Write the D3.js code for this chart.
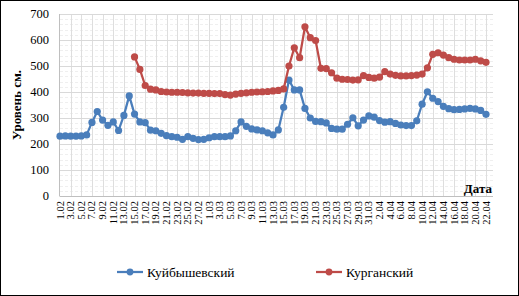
<!doctype html>
<html lang="ru">
<head>
    <meta charset="utf-8">
    <script src="https://d3js.org/d3.v7.min.js"></script>
    <style>
        html, body {
            margin: 0;
            padding: 0;
            background: #fff;
        }
    </style>
</head>
<body>
<svg id="svg" width="519" height="296"></svg>
<script>
    // dates 1.02 .. 22.04
    var dates = [
        "1.02", "2.02", "3.02", "4.02", "5.02", "6.02", "7.02", "8.02", "9.02", "10.02",
        "11.02", "12.02", "13.02", "14.02", "15.02", "16.02", "17.02", "18.02", "19.02", "20.02",
        "21.02", "22.02", "23.02", "24.02", "25.02", "26.02", "27.02", "28.02",
        "1.03", "2.03", "3.03", "4.03", "5.03", "6.03", "7.03", "8.03", "9.03", "10.03",
        "11.03", "12.03", "13.03", "14.03", "15.03", "16.03", "17.03", "18.03", "19.03", "20.03",
        "21.03", "22.03", "23.03", "24.03", "25.03", "26.03", "27.03", "28.03", "29.03", "30.03", "31.03",
        "1.04", "2.04", "3.04", "4.04", "5.04", "6.04", "7.04", "8.04", "9.04", "10.04",
        "11.04", "12.04", "13.04", "14.04", "15.04", "16.04", "17.04", "18.04", "19.04", "20.04",
        "21.04", "22.04"
    ];

    var kuibyshevsky = [
        230, 231, 230, 230, 231, 235, 283, 325, 292, 272,
        285, 252, 310, 385, 315, 285, 282, 253, 251, 241,
        232, 228, 226, 218, 228, 222, 217, 218, 224, 228,
        228, 228, 231, 251, 285, 268, 258, 254, 251, 243,
        235, 254, 341, 446, 408, 408, 337, 300, 287, 286,
        281, 260, 257, 257, 276, 301, 270, 292, 308, 303,
        290, 284, 286, 279, 273, 271, 271, 289, 353, 401,
        376, 363, 345, 336, 332, 333, 335, 337, 335, 329,
        314
    ];

    var kurgansky = [
        null, null, null, null, null, null, null, null, null, null,
        null, null, null, null, 535, 487, 425, 411, 408, 402,
        400, 399, 399, 398, 397, 396, 396, 395, 395, 394,
        394, 390, 388, 392, 395, 397, 399, 400, 401, 402,
        404, 406, 412, 500, 570, 532, 651, 609, 598, 491,
        490, 474, 453, 449, 448, 446, 447, 463, 456, 453,
        457, 478, 469, 464, 462, 462, 463, 465, 469, 493,
        545, 551, 542, 532, 526, 523, 523, 523, 526, 520,
        514
    ];

    var yTicks = [0, 100, 200, 300, 400, 500, 600, 700];
    var seriesNames = ["Куйбышевский", "Курганский"];
    var colors = ["#4a7ebb", "#be4b48"];

    (function () {
        var svg = d3.select("#svg");
        var font = "Liberation Serif";

        var left = 60, right = 486, plotTop = 14, plotBottom = 196, plotRight = 493;

        var x = d3.scalePoint().domain(d3.range(dates.length)).range([left, right]).padding(0);
        var y = d3.scaleLinear().domain([0, 700]).range([plotBottom, plotTop]);

        svg.append("rect")
            .attr("x", 0.5).attr("y", 0.5)
            .attr("width", 518).attr("height", 295)
            .attr("fill", "#fff")
            .attr("stroke", "#000");

        // minor grid
        svg.append("g").selectAll("line")
            .data(d3.range(0, 701, 20).filter(function (v) { return v % 100 != 0; }))
            .enter().append("line")
            .attr("x1", left).attr("x2", plotRight)
            .attr("y1", function (d) { return Math.round(y(d)) + 0.5; })
            .attr("y2", function (d) { return Math.round(y(d)) + 0.5; })
            .attr("stroke", "#efefef")
            .attr("stroke-dasharray", "3,2");

        // vertical grid, one per labelled date
        svg.append("g").selectAll("line")
            .data(d3.range(2, dates.length, 2))
            .enter().append("line")
            .attr("x1", function (d) { return Math.round(x(d)) + 0.5; })
            .attr("x2", function (d) { return Math.round(x(d)) + 0.5; })
            .attr("y1", plotTop).attr("y2", plotBottom)
            .attr("stroke", "#dedede");

        // major grid
        svg.append("g").selectAll("line")
            .data(yTicks.slice(1))
            .enter().append("line")
            .attr("x1", left).attr("x2", plotRight)
            .attr("y1", function (d) { return Math.round(y(d)) + 0.5; })
            .attr("y2", function (d) { return Math.round(y(d)) + 0.5; })
            .attr("stroke", "#d9d9d9");

        // axis lines
        svg.append("line")
            .attr("x1", left - 0.5).attr("x2", left - 0.5)
            .attr("y1", plotTop).attr("y2", plotBottom)
            .attr("stroke", "#bfbfbf");
        svg.append("line")
            .attr("x1", left - 0.5).attr("x2", plotRight)
            .attr("y1", plotBottom + 0.5).attr("y2", plotBottom + 0.5)
            .attr("stroke", "#bfbfbf");

        svg.append("g").selectAll("text")
            .data(yTicks)
            .enter().append("text")
            .attr("x", 49)
            .attr("y", function (d) { return y(d) + 4; })
            .attr("text-anchor", "end")
            .style("font-family", font)
            .style("font-size", "12.5px")
            .text(function (d) { return d; });

        svg.append("g").selectAll("text")
            .data(d3.range(0, dates.length, 2))
            .enter().append("text")
            .attr("transform", function (d) { return "translate(" + (x(d) + 3.5) + ",201) rotate(-90)"; })
            .attr("text-anchor", "end")
            .style("font-family", font)
            .style("font-size", "10.5px")
            .text(function (d) { return dates[d]; });

        svg.append("text")
            .attr("transform", "translate(21,105) rotate(-90)")
            .attr("text-anchor", "middle")
            .style("font-family", font)
            .style("font-size", "13px")
            .style("font-weight", "bold")
            .text("Уровень см.");

        svg.append("text")
            .attr("x", plotRight - 1)
            .attr("y", 193)
            .attr("text-anchor", "end")
            .style("font-family", font)
            .style("font-size", "13px")
            .style("font-weight", "bold")
            .text("Дата");

        var line = d3.line()
            .defined(function (d) { return d != null; })
            .x(function (d, i) { return x(i); })
            .y(function (d) { return y(d); });

        [kuibyshevsky, kurgansky].forEach(function (values, s) {
            svg.append("path")
                .datum(values)
                .attr("d", line)
                .attr("fill", "none")
                .attr("stroke", colors[s])
                .attr("stroke-width", 2.25)
                .attr("stroke-linejoin", "round");
            svg.append("g").selectAll("circle")
                .data(values.map(function (v, i) { return {i: i, v: v}; })
                    .filter(function (d) { return d.v != null; }))
                .enter().append("circle")
                .attr("cx", function (d) { return x(d.i); })
                .attr("cy", function (d) { return y(d.v); })
                .attr("r", 3.6)
                .attr("fill", colors[s]);
        });

        // legend
        var legendX = [117, 316];
        seriesNames.forEach(function (name, s) {
            var g = svg.append("g").attr("transform", "translate(" + legendX[s] + ",272)");
            g.append("line")
                .attr("x1", 0).attr("x2", 26)
                .attr("stroke", colors[s]).attr("stroke-width", 2.25);
            g.append("circle").attr("cx", 13).attr("r", 3.4).attr("fill", colors[s]);
            g.append("text")
                .attr("x", 30).attr("y", 4.5)
                .style("font-family", font)
                .style("font-size", "13.5px")
                .text(name);
        });
    })();
</script>
</body>
</html>
